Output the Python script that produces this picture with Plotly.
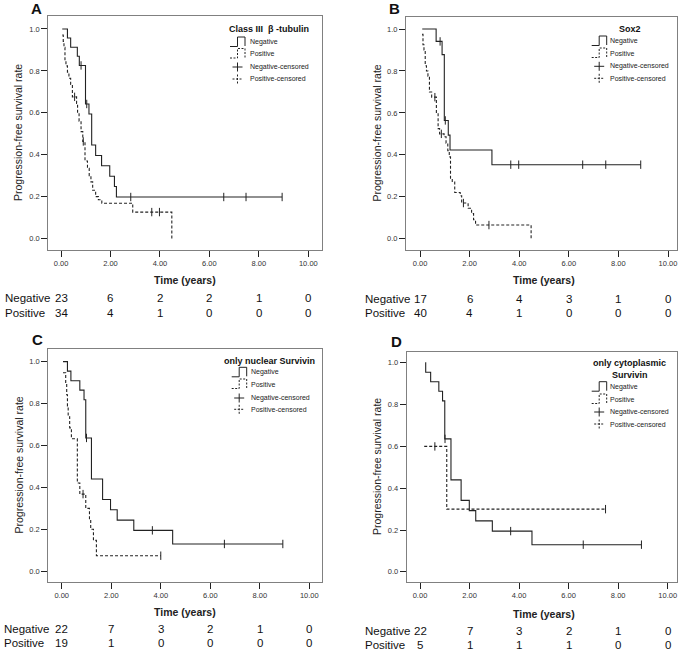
import plotly.graph_objects as go

W, H = 685, 651
FONT = "Liberation Sans, Arial, sans-serif"
INK = "#222222"
FRAME = "#808080"

# ---------------- data ----------------
risk_times = [0, 2, 4, 6, 8, 10]

# Panel A : Class III beta-tubulin
A_neg_t = [0.05, 0.26, 0.39, 0.66, 0.74, 0.99, 1.13, 1.24, 1.40, 1.64, 1.97, 2.16, 2.24]
A_neg_s = [1.0, 0.957, 0.913, 0.870, 0.826, 0.642, 0.594, 0.446, 0.396, 0.347, 0.297, 0.248, 0.198]
A_neg_c = [0.81, 1.04, 2.82, 6.58, 7.48, 8.94]
A_pos_t = [0.05, 0.09, 0.12, 0.16, 0.20, 0.26, 0.32, 0.39, 0.46, 0.63, 0.67, 0.73, 0.81, 0.88,
           0.97, 1.07, 1.14, 1.21, 1.28, 1.40, 1.51, 1.65, 2.90, 4.48]
A_pos_s = [0.971, 0.941, 0.912, 0.853, 0.824, 0.794, 0.765, 0.735, 0.676, 0.645, 0.60, 0.56, 0.51, 0.463,
           0.37, 0.335, 0.30, 0.27, 0.23, 0.20, 0.185, 0.168, 0.126, 0.0]
A_pos_c = [0.55, 0.90, 3.67, 3.98]
A_risk_neg = [23, 6, 2, 2, 1, 0]
A_risk_pos = [34, 4, 1, 0, 0, 0]

# Panel B : Sox2
B_neg_t = [0.09, 0.65, 0.89, 0.98, 1.14, 1.21, 2.90]
B_neg_s = [1.0, 0.941, 0.878, 0.564, 0.494, 0.423, 0.353]
B_neg_c = [0.81, 1.02, 3.66, 3.98, 6.56, 7.49, 8.90]
B_pos_t = [0.08, 0.12, 0.16, 0.21, 0.26, 0.32, 0.38, 0.47, 0.66, 0.73, 0.79, 0.97, 1.05, 1.12,
           1.18, 1.23, 1.30, 1.40, 1.62, 1.68, 1.94, 2.08, 2.16, 2.24, 4.48]
B_pos_s = [0.975, 0.925, 0.90, 0.825, 0.80, 0.775, 0.70, 0.675, 0.60, 0.525, 0.50, 0.486, 0.456, 0.42,
           0.39, 0.285, 0.27, 0.22, 0.205, 0.17, 0.145, 0.12, 0.09, 0.065, 0.0]
B_pos_c = [0.60, 0.86, 1.75, 2.78]
B_risk_neg = [17, 6, 4, 3, 1, 0]
B_risk_pos = [40, 4, 1, 0, 0, 0]

# Panel C : only nuclear Survivin
C_neg_t = [0.05, 0.23, 0.37, 0.73, 0.90, 0.97, 1.20, 1.65, 1.97, 2.24, 2.91, 4.48]
C_neg_s = [1.0, 0.955, 0.909, 0.864, 0.818, 0.636, 0.440, 0.342, 0.293, 0.244, 0.195, 0.130]
C_neg_c = [1.00, 3.66, 6.57, 8.93]
C_pos_t = [0.05, 0.16, 0.20, 0.23, 0.26, 0.32, 0.39, 0.63, 0.73, 0.97, 1.12, 1.17, 1.28, 1.40]
C_pos_s = [0.947, 0.895, 0.842, 0.789, 0.737, 0.684, 0.632, 0.421, 0.368, 0.30, 0.245, 0.20, 0.147, 0.074]
C_pos_c = [0.86, 4.00]
C_risk_neg = [22, 7, 3, 2, 1, 0]
C_risk_pos = [19, 1, 0, 0, 0, 0]

# Panel D : only cytoplasmic Survivin
D_neg_t = [0.21, 0.23, 0.43, 0.76, 0.91, 1.00, 1.25, 1.66, 1.99, 2.25, 2.92, 4.52]
D_neg_s = [1.0, 0.955, 0.909, 0.864, 0.818, 0.636, 0.440, 0.342, 0.293, 0.244, 0.195, 0.130]
D_neg_c = [1.01, 3.66, 6.59, 8.94]
D_pos_t = [0.17, 1.08]
D_pos_s = [0.6, 0.3]
D_pos_c = [0.60, 7.49]
D_risk_neg = [22, 7, 3, 2, 1, 0]
D_risk_pos = [5, 1, 1, 1, 0, 0]

group_labels = ["Negative", "Positive"]
legend_labels = ["Negative", "Positive", "Negative-censored", "Positive-censored"]
x_title = "Time (years)"
y_title = "Progression-free survival rate"

# ---------------- layout of panels (pixel geometry) ----------------
def PX(x):
    return x / W

def PY(y):
    return 1 - y / H

panels = [
    dict(letter="A", data=(A_neg_t, A_neg_s, A_neg_c, A_pos_t, A_pos_s, A_pos_c, A_risk_neg, A_risk_pos),
         frame=(48.3, 321.7, 16.0, 250.0), xr=[-0.514, 10.54], yr=[-0.055, 1.062],
         letter_xy=(36.5, 8.5), ytitle_xy=(18, 133), xtitle_xy=(185, 280),
         risk_lab_x=2.7, risk_y=(298.3, 312.7),
         leg=dict(title=["Class III  β -tubulin"], tx=268.5, ty=[29], il=230, tx2=248,
                  rows=[42, 53.5, 67, 79])),
    dict(letter="B", data=(B_neg_t, B_neg_s, B_neg_c, B_pos_t, B_pos_s, B_pos_c, B_risk_neg, B_risk_pos),
         frame=(406.0, 677.0, 17.3, 250.0), xr=[-0.565, 10.363], yr=[-0.054, 1.056],
         letter_xy=(394, 8.5), ytitle_xy=(377, 133.5), xtitle_xy=(544, 280),
         risk_lab_x=362.7, risk_y=(299.3, 313.3),
         leg=dict(title=["Sox2"], tx=630, ty=[29], il=591.7, tx2=608.3,
                  rows=[41, 53, 66.3, 78.3])),
    dict(letter="C", data=(C_neg_t, C_neg_s, C_neg_c, C_pos_t, C_pos_s, C_pos_c, C_risk_neg, C_risk_pos),
         frame=(48.3, 321.7, 349.3, 581.7), xr=[-0.543, 10.50], yr=[-0.050, 1.059],
         letter_xy=(37.5, 339), ytitle_xy=(18, 465.5), xtitle_xy=(185, 612),
         risk_lab_x=1.7, risk_y=(629, 643.3),
         leg=dict(title=["only nuclear Survivin"], tx=269.3, ty=[360.7], il=231.7, tx2=249,
                  rows=[372.3, 384, 398, 409.3])),
    dict(letter="D", data=(D_neg_t, D_neg_s, D_neg_c, D_pos_t, D_pos_s, D_pos_c, D_risk_neg, D_risk_pos),
         frame=(406.7, 677.0, 351.7, 581.7), xr=[-0.537, 10.375], yr=[-0.047, 1.053],
         letter_xy=(396, 341), ytitle_xy=(377, 467), xtitle_xy=(544, 614),
         risk_lab_x=362.7, risk_y=(631, 645),
         leg=dict(title=["only cytoplasmic", "Survivin"], tx=629.5, ty=[362.7, 375], il=591.7, tx2=608.3,
                  rows=[386.7, 399, 412, 424])),
]


def step_at(ts, ss, c):
    v = ss[0]
    for t, s in zip(ts, ss):
        if t <= c:
            v = s
    return v


fig = go.Figure()
annotations = []
shapes = []
layout_axes = {}

for i, p in enumerate(panels, start=1):
    xa = "x" if i == 1 else f"x{i}"
    ya = "y" if i == 1 else f"y{i}"
    l, r, t, b = p["frame"]
    common = dict(showgrid=False, zeroline=False, showline=True, mirror=True,
                  linecolor=FRAME, linewidth=1, ticks="outside", ticklen=6,
                  tickcolor=INK, tickwidth=1,
                  tickfont=dict(family=FONT, size=7.5, color="#333333"), fixedrange=True)
    layout_axes["xaxis" if i == 1 else f"xaxis{i}"] = dict(
        domain=[PX(l), PX(r)], range=p["xr"], anchor=ya,
        tickvals=risk_times, tickformat=".2f", **common)
    layout_axes["yaxis" if i == 1 else f"yaxis{i}"] = dict(
        domain=[PY(b), PY(t)], range=p["yr"], anchor=xa,
        tickvals=[0, 0.2, 0.4, 0.6, 0.8, 1.0], tickformat=".1f", **common)

    nt, ns, nc, pt, ps, pc, rn, rp = p["data"]
    for (ts, ss, cs, dash) in [(nt, ns, nc, "solid"), (pt, ps, pc, "3px,2px")]:
        xs = list(ts)
        ys = list(ss)
        if max(cs) > xs[-1]:
            xs.append(max(cs))
            ys.append(ys[-1])
        fig.add_trace(go.Scatter(x=xs, y=ys, mode="lines", xaxis=xa, yaxis=ya,
                                 line=dict(shape="hv", color=INK, width=1.1, dash=dash),
                                 showlegend=False, hoverinfo="skip"))
        fig.add_trace(go.Scatter(x=cs, y=[step_at(ts, ss, c) for c in cs], mode="markers",
                                 xaxis=xa, yaxis=ya,
                                 marker=dict(symbol="line-ns", size=6, color=INK,
                                             line=dict(width=1, color=INK)),
                                 showlegend=False, hoverinfo="skip"))

    # panel letter
    lx, ly = p["letter_xy"]
    annotations.append(dict(text=f"<b>{p['letter']}</b>", x=PX(lx), y=PY(ly), xref="paper", yref="paper",
                            showarrow=False, font=dict(family=FONT, size=15, color="#111111"),
                            xanchor="center", yanchor="middle"))
    # axis titles
    yx, yy = p["ytitle_xy"]
    annotations.append(dict(text=y_title, x=PX(yx), y=PY(yy), xref="paper", yref="paper",
                            textangle=-90, showarrow=False,
                            font=dict(family=FONT, size=10.5, color="#222222"),
                            xanchor="center", yanchor="middle"))
    xx, xy = p["xtitle_xy"]
    annotations.append(dict(text=f"<b>{x_title}</b>", x=PX(xx), y=PY(xy), xref="paper", yref="paper",
                            showarrow=False, font=dict(family=FONT, size=10.5, color="#222222"),
                            xanchor="center", yanchor="middle"))
    # number at risk
    for lab, counts, ry in zip(group_labels, (rn, rp), p["risk_y"]):
        annotations.append(dict(text=lab, x=PX(p["risk_lab_x"]), y=PY(ry), xref="paper", yref="paper",
                                showarrow=False, font=dict(family=FONT, size=11.5, color="#111111"),
                                xanchor="left", yanchor="middle"))
        for tv, cnt in zip(risk_times, counts):
            annotations.append(dict(text=str(cnt), x=tv, y=PY(ry), xref=xa, yref="paper",
                                    showarrow=False, font=dict(family=FONT, size=11.5, color="#111111"),
                                    xanchor="center", yanchor="middle"))
    # custom legend
    lg = p["leg"]
    for line_txt, tyy in zip(lg["title"], lg["ty"]):
        annotations.append(dict(text=f"<b>{line_txt}</b>", x=PX(lg["tx"]), y=PY(tyy), xref="paper",
                                yref="paper", showarrow=False,
                                font=dict(family=FONT, size=9, color="#111111"),
                                xanchor="center", yanchor="middle"))
    L = lg["il"]
    for k, (lab, ry) in enumerate(zip(legend_labels, lg["rows"])):
        annotations.append(dict(text=lab, x=PX(lg["tx2"]), y=PY(ry), xref="paper", yref="paper",
                                showarrow=False, font=dict(family=FONT, size=7, color="#222222"),
                                xanchor="left", yanchor="middle"))
        dash = "solid" if k % 2 == 0 else "2px,1.5px"
        if k < 2:
            path = (f"M {PX(L)},{PY(ry + 4.5)} L {PX(L + 7.5)},{PY(ry + 4.5)} "
                    f"L {PX(L + 7.5)},{PY(ry - 5)} L {PX(L + 15)},{PY(ry - 5)} "
                    f"L {PX(L + 15)},{PY(ry + 4)}")
            shapes.append(dict(type="path", path=path, xref="paper", yref="paper",
                               line=dict(color=INK, width=1, dash=dash)))
        else:
            cx = L + 7.5
            shapes.append(dict(type="line", x0=PX(cx - 5), x1=PX(cx + 5), y0=PY(ry), y1=PY(ry),
                               xref="paper", yref="paper", line=dict(color=INK, width=1, dash=dash)))
            shapes.append(dict(type="line", x0=PX(cx), x1=PX(cx), y0=PY(ry - 4.5), y1=PY(ry + 4.5),
                               xref="paper", yref="paper", line=dict(color=INK, width=1, dash=dash)))

fig.update_layout(width=W, height=H, margin=dict(l=0, r=0, t=0, b=0),
                  paper_bgcolor="white", plot_bgcolor="white", showlegend=False,
                  annotations=annotations, shapes=shapes, **layout_axes)

fig.write_html("out.html", config={"displayModeBar": False},
               post_script="document.body.style.margin='0';document.body.style.overflow='hidden';")
